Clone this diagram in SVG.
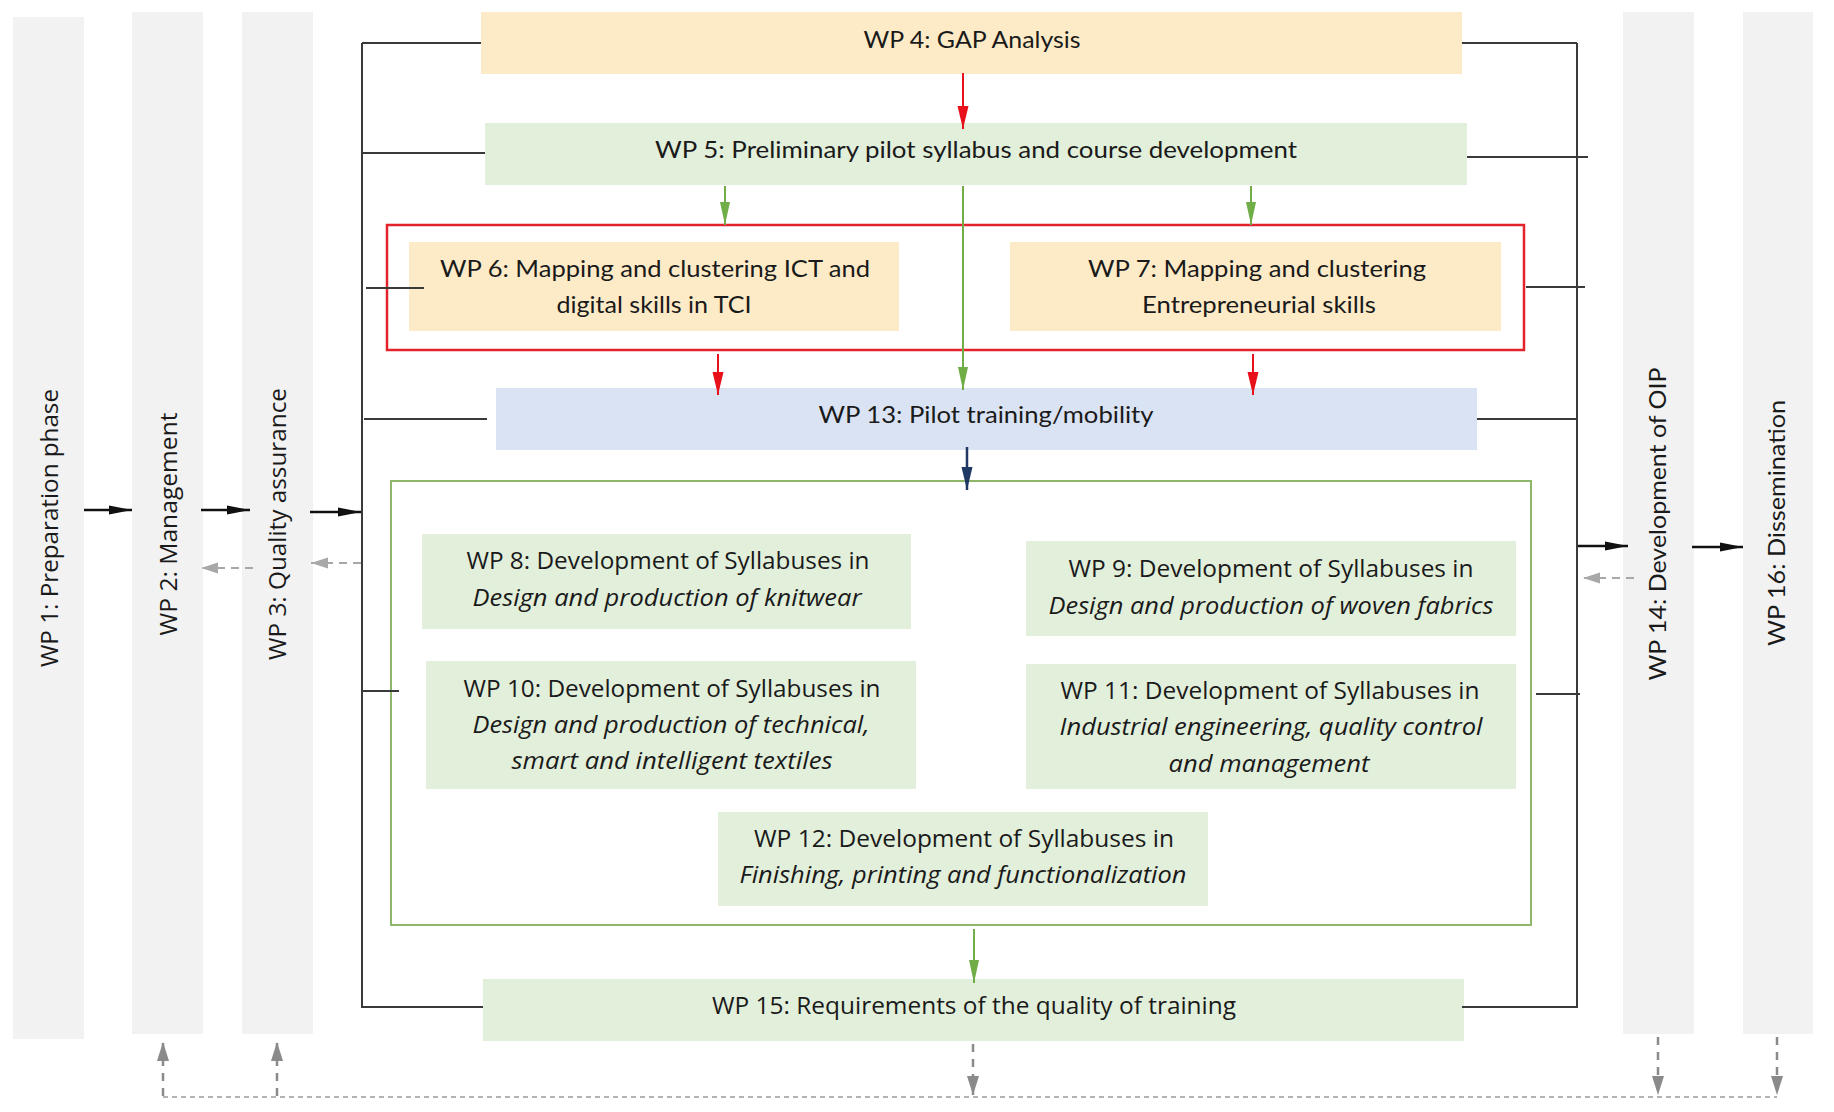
<svg xmlns="http://www.w3.org/2000/svg" width="1834" height="1112" viewBox="0 0 1834 1112">
<style>
.col{fill:#f2f2f2}
.orange{fill:#fdebc8}
.green{fill:#e2efda}
.blue{fill:#dae3f3}
.t1{font-family:Lato,"Liberation Sans",sans-serif;font-size:24px;fill:#1a1a1a;text-anchor:middle}
.t2{font-family:"Open Sans","Liberation Sans",sans-serif;font-size:24px;fill:#1a1a1a;text-anchor:middle}
.it{font-style:italic}
.ln{stroke:#3a3a3a;stroke-width:2;fill:none}
.blk{stroke:#111;stroke-width:2.5;fill:none;marker-end:url(#mBlack)}
.red{stroke:#e8101a;stroke-width:2;fill:none;marker-end:url(#mRed)}
.grn{stroke:#70ad47;stroke-width:2;fill:none;marker-end:url(#mGreen)}
.nav{stroke:#1f3864;stroke-width:2.5;fill:none;marker-end:url(#mNavy)}
.gl{stroke:#a8a8a8;stroke-width:2;stroke-dasharray:8,6;fill:none;marker-end:url(#mGrayL)}
.gd{stroke:#8a8a8a;stroke-width:2.5;stroke-dasharray:8,7;fill:none;marker-end:url(#mGrayD)}
</style>
<defs>
<marker id="mBlack" markerUnits="userSpaceOnUse" markerWidth="24" markerHeight="10" refX="23" refY="5" orient="auto"><path d="M0,0.5 L23,5 L0,9.5 Z" fill="#111"/></marker>
<marker id="mRed" markerUnits="userSpaceOnUse" markerWidth="24" markerHeight="12" refX="23" refY="6" orient="auto"><path d="M0,0.5 L23,6 L0,11.5 Z" fill="#e8101a"/></marker>
<marker id="mGreen" markerUnits="userSpaceOnUse" markerWidth="24" markerHeight="12" refX="23" refY="6" orient="auto"><path d="M0,1 L23,6 L0,11 Z" fill="#70ad47"/></marker>
<marker id="mNavy" markerUnits="userSpaceOnUse" markerWidth="24" markerHeight="12" refX="23" refY="6" orient="auto"><path d="M0,0.5 L23,6 L0,11.5 Z" fill="#1f3864"/></marker>
<marker id="mGrayL" markerUnits="userSpaceOnUse" markerWidth="18" markerHeight="12" refX="17" refY="6" orient="auto"><path d="M0,0.5 L17,6 L0,11.5 Z" fill="#a8a8a8"/></marker>
<marker id="mGrayD" markerUnits="userSpaceOnUse" markerWidth="20" markerHeight="14" refX="19" refY="7" orient="auto"><path d="M0,1 L19,7 L0,13 Z" fill="#8a8a8a"/></marker>
</defs>
<rect width="1834" height="1112" fill="#ffffff"/>

<g id="wp1"><rect class="col" x="13" y="17" width="71" height="1022"/><text class="t2" transform="translate(58,528) rotate(-90)" textLength="278" lengthAdjust="spacingAndGlyphs">WP 1: Preparation phase</text></g>
<g id="wp2"><rect class="col" x="132" y="12" width="71" height="1022"/><text class="t2" transform="translate(177,524) rotate(-90)" textLength="223" lengthAdjust="spacingAndGlyphs">WP 2: Management</text></g>
<g id="wp3"><rect class="col" x="242" y="12" width="71" height="1022"/><text class="t2" transform="translate(286,524) rotate(-90)" textLength="272" lengthAdjust="spacingAndGlyphs">WP 3: Quality assurance</text></g>
<g id="wp14"><rect class="col" x="1623" y="12" width="71" height="1022"/><text class="t1" transform="translate(1666,524) rotate(-90)" textLength="313" lengthAdjust="spacingAndGlyphs">WP 14: Development of OIP</text></g>
<g id="wp16"><rect class="col" x="1743" y="12" width="70" height="1022"/><text class="t1" transform="translate(1785,523) rotate(-90)" textLength="246" lengthAdjust="spacingAndGlyphs">WP 16: Dissemination</text></g>

<g id="wp4"><rect class="orange" x="481" y="12" width="981" height="62"/><text class="t1" x="972" y="48" textLength="217" lengthAdjust="spacingAndGlyphs">WP 4: GAP Analysis</text></g>
<g id="wp5"><rect class="green" x="485" y="123" width="982" height="62"/><text class="t1" x="976" y="158" textLength="642" lengthAdjust="spacingAndGlyphs">WP 5: Preliminary pilot syllabus and course development</text></g>
<g id="group-6-7"><rect x="387" y="225" width="1137" height="125" fill="none" stroke="#e3222c" stroke-width="2.5"/></g>
<g id="wp6"><rect class="orange" x="409" y="242" width="490" height="89"/><text class="t1" x="655" y="277" textLength="430" lengthAdjust="spacingAndGlyphs">WP 6: Mapping and clustering ICT and</text><text class="t1" x="654" y="313" textLength="195" lengthAdjust="spacingAndGlyphs">digital skills in TCI</text></g>
<g id="wp7"><rect class="orange" x="1010" y="242" width="491" height="89"/><text class="t1" x="1257" y="277" textLength="338" lengthAdjust="spacingAndGlyphs">WP 7: Mapping and clustering</text><text class="t1" x="1259" y="313" textLength="234" lengthAdjust="spacingAndGlyphs">Entrepreneurial skills</text></g>
<g id="wp13"><rect class="blue" x="496" y="388" width="981" height="62"/><text class="t1" x="986" y="423" textLength="335" lengthAdjust="spacingAndGlyphs">WP 13: Pilot training/mobility</text></g>
<g id="group-8-12"><rect x="391" y="481" width="1140" height="444" fill="none" stroke="#8db86a" stroke-width="2"/></g>
<g id="wp8"><rect class="green" x="422" y="534" width="489" height="95"/><text class="t2" x="668" y="569" textLength="403" lengthAdjust="spacingAndGlyphs">WP 8: Development of Syllabuses in</text><text class="t2 it" x="667" y="606" textLength="389" lengthAdjust="spacingAndGlyphs">Design and production of knitwear</text></g>
<g id="wp9"><rect class="green" x="1026" y="541" width="490" height="95"/><text class="t2" x="1271" y="577" textLength="405" lengthAdjust="spacingAndGlyphs">WP 9: Development of Syllabuses in</text><text class="t2 it" x="1271" y="614" textLength="445" lengthAdjust="spacingAndGlyphs">Design and production of woven fabrics</text></g>
<g id="wp10"><rect class="green" x="426" y="661" width="490" height="128"/><text class="t2" x="672" y="697" textLength="417" lengthAdjust="spacingAndGlyphs">WP 10: Development of Syllabuses in</text><text class="t2 it" x="671" y="733" textLength="397" lengthAdjust="spacingAndGlyphs">Design and production of technical,</text><text class="t2 it" x="672" y="769" textLength="321" lengthAdjust="spacingAndGlyphs">smart and intelligent textiles</text></g>
<g id="wp11"><rect class="green" x="1026" y="664" width="490" height="125"/><text class="t2" x="1270" y="699" textLength="419" lengthAdjust="spacingAndGlyphs">WP 11: Development of Syllabuses in</text><text class="t2 it" x="1271" y="735" textLength="423" lengthAdjust="spacingAndGlyphs">Industrial engineering, quality control</text><text class="t2 it" x="1269" y="772" textLength="201" lengthAdjust="spacingAndGlyphs">and management</text></g>
<g id="wp12"><rect class="green" x="718" y="812" width="490" height="94"/><text class="t2" x="964" y="847" textLength="420" lengthAdjust="spacingAndGlyphs">WP 12: Development of Syllabuses in</text><text class="t2 it" x="963" y="883" textLength="447" lengthAdjust="spacingAndGlyphs">Finishing, printing and functionalization</text></g>
<g id="wp15"><rect class="green" x="483" y="979" width="981" height="62"/><text class="t2" x="974" y="1014" textLength="524" lengthAdjust="spacingAndGlyphs">WP 15: Requirements of the quality of training</text></g>

<g id="connectors">
<path class="ln" d="M362,43 V1008 M362,43 H481 M362,153 H485 M366,288 H424 M364,419 H487 M362,691 H399 M362,1007 H483"/>
<path class="ln" d="M1577,43 V1008 M1462,43 H1577 M1467,157 H1588 M1526,287 H1585 M1477,419 H1577 M1536,694 H1580 M1462,1007 H1577"/>
<line class="blk" x1="84" y1="510" x2="132" y2="510"/>
<line class="blk" x1="201" y1="510" x2="250" y2="510"/>
<line class="blk" x1="310" y1="512" x2="361" y2="512"/>
<line class="blk" x1="1578" y1="546" x2="1628" y2="546"/>
<line class="blk" x1="1692" y1="547" x2="1743" y2="547"/>
<line class="gl" x1="253" y1="568" x2="201" y2="568"/>
<line class="gl" x1="361" y1="563" x2="311" y2="563"/>
<line class="gl" x1="1634" y1="578" x2="1583" y2="578"/>
<line class="red" x1="963" y1="73" x2="963" y2="129"/>
<line class="grn" x1="725" y1="186" x2="725" y2="225"/>
<line class="grn" x1="1251" y1="186" x2="1251" y2="225"/>
<line class="grn" x1="963" y1="186" x2="963" y2="390"/>
<line class="red" x1="718" y1="354" x2="718" y2="395"/>
<line class="red" x1="1253" y1="354" x2="1253" y2="395"/>
<line class="nav" x1="967" y1="447" x2="967" y2="490"/>
<line class="grn" x1="974" y1="929" x2="974" y2="983"/>
<line class="gd" x1="163" y1="1096" x2="163" y2="1042"/>
<line class="gd" x1="277" y1="1096" x2="277" y2="1042"/>
<line class="gd" x1="973" y1="1044" x2="973" y2="1095"/>
<line class="gd" x1="1658" y1="1037" x2="1658" y2="1095"/>
<line class="gd" x1="1777" y1="1037" x2="1777" y2="1095"/>
<line x1="163" y1="1097" x2="1777" y2="1097" stroke="#9a9a9a" stroke-width="1.5" stroke-dasharray="5,4"/>
</g>
</svg>
